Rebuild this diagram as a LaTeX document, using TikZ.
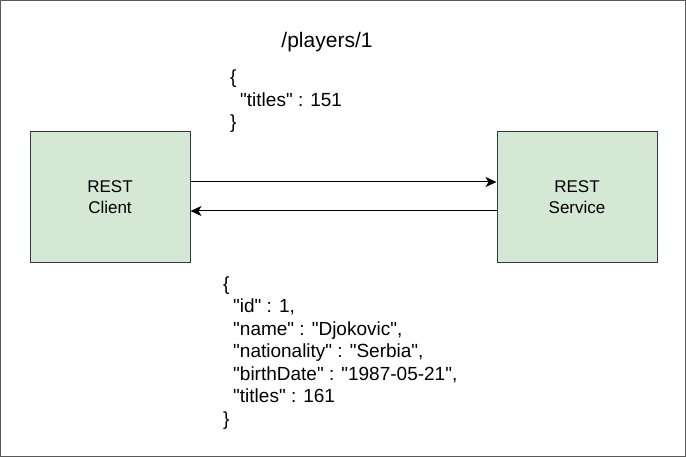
\documentclass[tikz,border=0pt]{standalone}
\usepackage{fontspec}
\setmainfont{Liberation Sans}[Ligatures=TeXOff]
\usepackage{tikz}
\usetikzlibrary{arrows.meta}
\definecolor{restgreen}{HTML}{D5E8D4}
\definecolor{edgegray}{HTML}{36393D}
\newcommand{\jind}{\hspace*{10pt}}

\begin{document}
\begin{tikzpicture}[x=1pt,y=-1pt,
 box/.style={draw=edgegray,fill=restgreen,line width=1pt,minimum width=160pt,minimum height=131pt,align=center,font=\fontsize{17}{21}\selectfont},
 flow/.style={-{Stealth[length=11pt,width=10pt,inset=3pt]},line width=1pt},
 json/.style={anchor=base west,align=left,inner sep=0pt,font=\fontsize{19}{22.5}\selectfont}]
 \useasboundingbox (0,0) rectangle (686,457);
 \draw[gray!70!black,line width=1pt] (0.5,0.5) rectangle (685.5,456.5);
 \node[box] (client) at (110,197.5) {REST\\Client};
 \node[box] (service) at (577,197.5) {REST\\Service};
 \draw[flow] ([yshift=15.5pt]client.east) -- ([yshift=15.5pt]service.west);
 \draw[flow] ([yshift=-13.5pt]service.west) -- ([yshift=-13.5pt]client.east);
 \node[anchor=base,inner sep=0pt,font=\fontsize{21}{25}\selectfont] (path) at (327,48) {/players/1};
 % anchor base = last line
 \node[json] (request) at (230,129) {\{\\\jind"titles" : 151\\\}};
 \node[json] (response) at (223,425) {\{\\
  \jind"id" : 1,\\
  \jind"name" : "Djokovic",\\
  \jind"nationality" : "Serbia",\\
  \jind"birthDate" : "1987-05-21",\\
  \jind"titles" : 161\\
  \}};
\end{tikzpicture}
\end{document}
